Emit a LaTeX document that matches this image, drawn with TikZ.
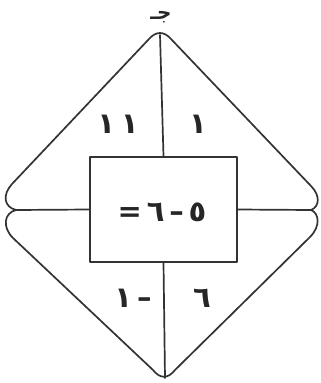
\documentclass[tikz,border=0pt]{standalone}
\usepackage{fontspec}
\newfontfamily\arabicfont[Script=Arabic]{DejaVu Sans}
\TeXXeTstate=1

\tikzset{
  edge/.style={line width=1.7pt, color=black!80, line join=round, line cap=round},
  lbl/.style={font=\arabicfont\bfseries\fontsize{29}{32}\selectfont, inner sep=0pt, color=black!85}
}

\begin{document}
\begin{tikzpicture}[x=1pt, y=-1pt]
	\useasboundingbox (0,0) rectangle (321,383);
	
	\coordinate (T) at (160,35);
	\coordinate (B) at (165,378);
	\coordinate (L) at (16,210);
	\coordinate (R) at (311,210);
	
	% upper and lower halves
	\draw[edge] (L) .. controls (4,207) and (2,195) .. (12,184) -- (149,39)
		.. controls (156,31) and (164,31) .. (171,39) -- (311,186)
		.. controls (321,196) and (319,207) .. (R);
	\draw[edge] (L) .. controls (4,213) and (2,227) .. (13,238) -- (153,370)
		.. controls (160,379) and (168,379) .. (175,370) -- (310,237)
		.. controls (321,226) and (319,213) .. (R);
	
	\node[edge, draw, minimum width=147pt, minimum height=105pt, inner sep=0pt] (box) at (163.5,209.5) {};
	
	\draw[edge] (T) -- (box.north);
	\draw[edge] (box.south) -- (B);
	\draw[edge] (L) -- (box.west);
	\draw[edge] (box.east) -- (R);
	
	\node[lbl, font=\arabicfont\bfseries\fontsize{20}{22}\selectfont] (jim) at (161,17) {\beginR جـ\endR};
	\node[lbl] (tl) at (118,124) {\beginR ١\kern6pt ١\endR};
	\node[lbl] (tr) at (198,124) {\beginR ١\endR};
	\node[lbl] (mid) at (162,212) {\beginR ٥\,–\,٦\,=\endR};
	\node[lbl] (bl) at (133,298) {\beginR –\kern5pt ١\endR};
	\node[lbl] (br) at (202,298) {\beginR ٦\endR};
\end{tikzpicture}
\end{document}
